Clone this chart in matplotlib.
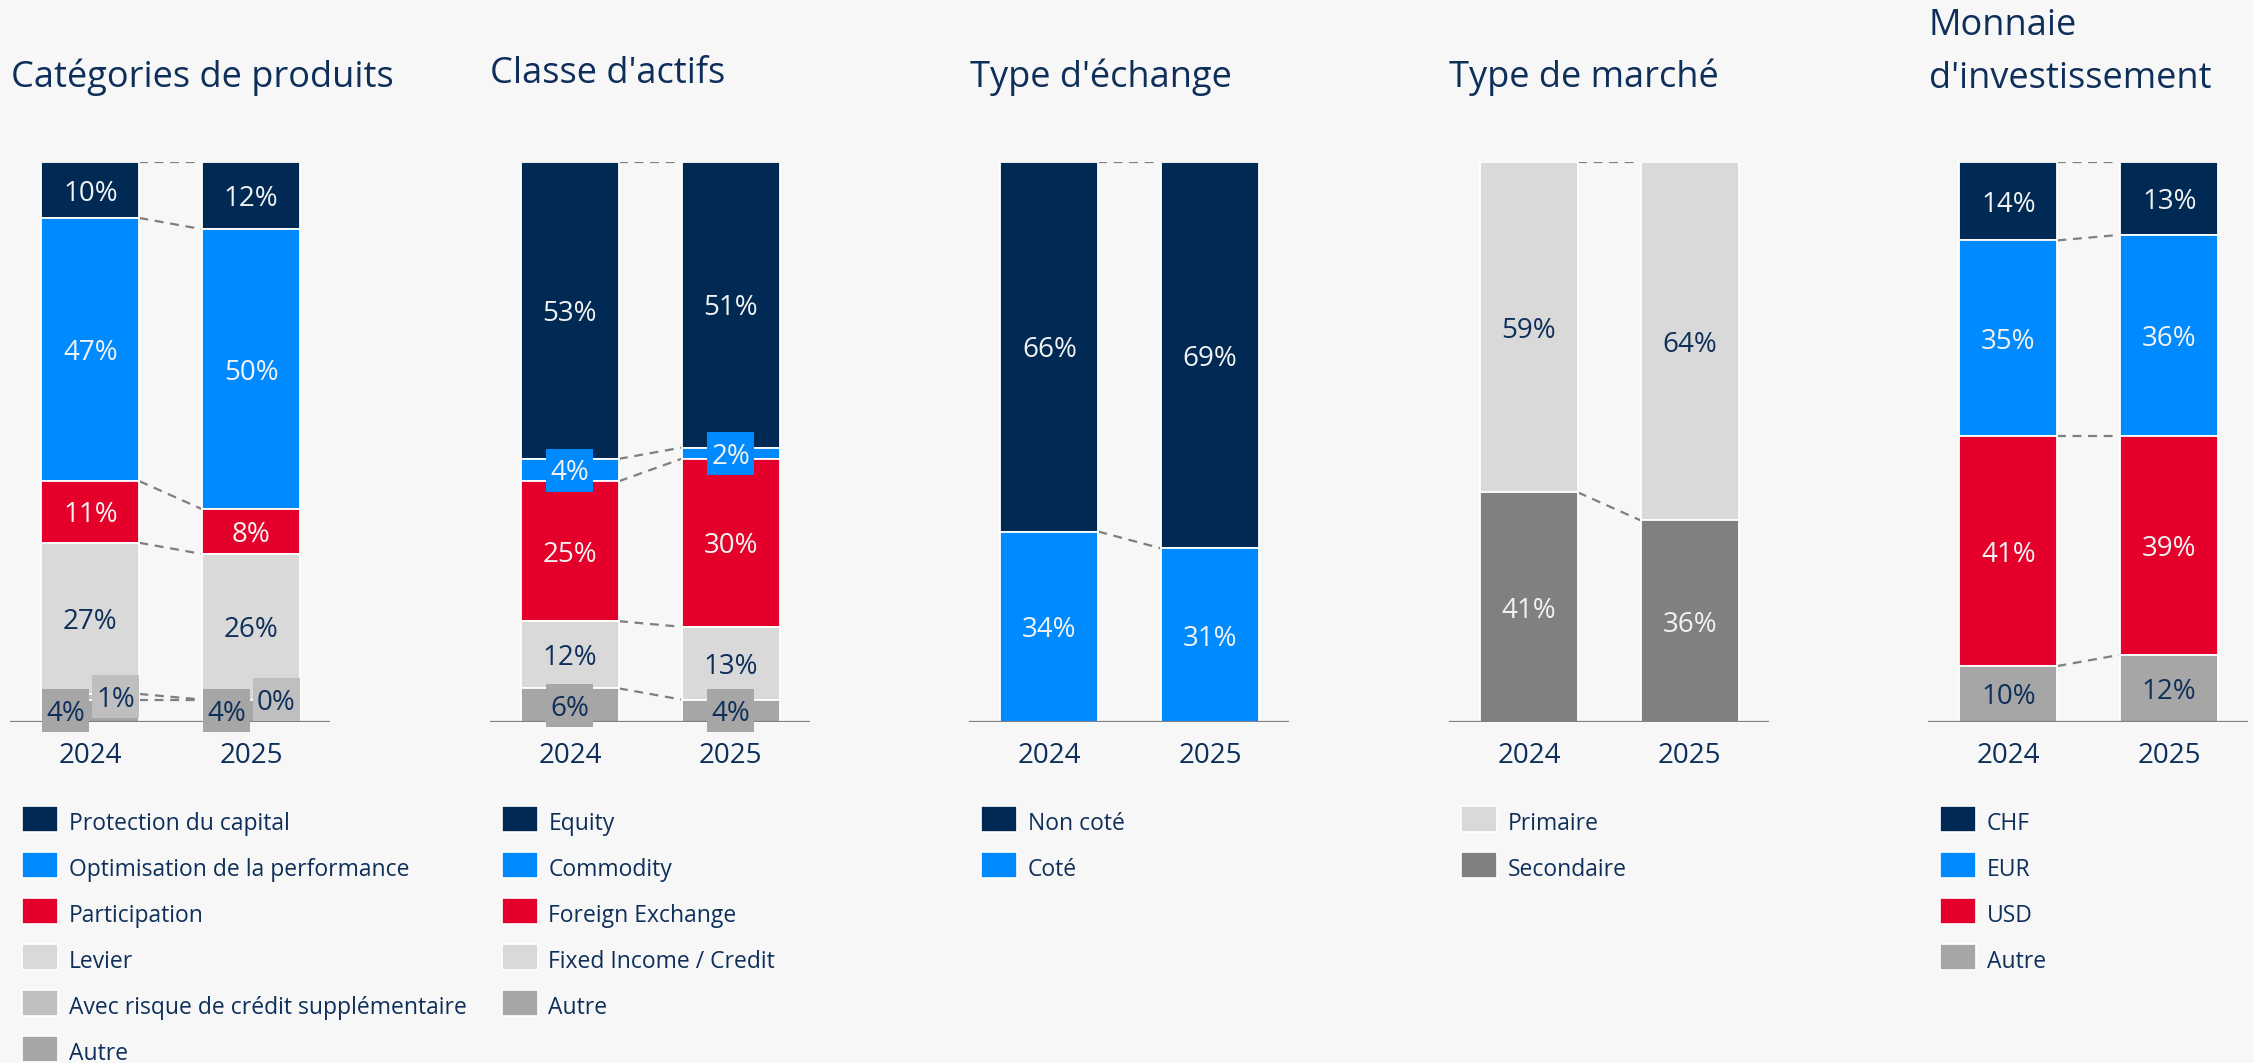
import matplotlib
matplotlib.use('Agg')
import matplotlib.pyplot as plt
from matplotlib.patches import Rectangle
import numpy as np

plt.rcParams['font.family'] = ['Open Sans', 'DejaVu Sans']

W, H = 2254, 1063

years = ['2024', '2025']

# ---- data ----
title_produits = ['Catégories de produits']
cat_produits = ['Protection du capital', 'Optimisation de la performance', 'Participation',
                'Levier', 'Avec risque de crédit supplémentaire', 'Autre']
produits_2024 = [10, 47, 11, 27, 1, 4]
produits_2025 = [12, 50, 8, 26, 0, 4]

title_actifs = ["Classe d'actifs"]
cat_actifs = ['Equity', 'Commodity', 'Foreign Exchange', 'Fixed Income / Credit', 'Autre']
actifs_2024 = [53, 4, 25, 12, 6]
actifs_2025 = [51, 2, 30, 13, 4]

title_echange = ["Type d'échange"]
cat_echange = ['Non coté', 'Coté']
echange_2024 = [66, 34]
echange_2025 = [69, 31]

title_marche = ['Type de marché']
cat_marche = ['Primaire', 'Secondaire']
marche_2024 = [59, 41]
marche_2025 = [64, 36]

title_monnaie = ['Monnaie', "d'investissement"]
cat_monnaie = ['CHF', 'EUR', 'USD', 'Autre']
monnaie_2024 = [14, 35, 41, 10]
monnaie_2025 = [13, 36, 39, 12]

# ---- styles ----
NAVY = '#002A54'
BLUE = '#008AFF'
RED = '#E4002B'
LGRAY = '#D9D9D9'
MGRAY = '#BFBFBF'
AGRAY = '#A6A6A6'
DGRAY = '#808080'
TXT = '#0E2F5A'
WTXT = '#F2F2F2'
BG = '#F7F7F7'

panels = [
    dict(title=title_produits, cats=cat_produits, v=[produits_2024, produits_2025],
         colors=[NAVY, BLUE, RED, LGRAY, MGRAY, AGRAY], dx=[0, 0, 0, 0, 0.157, -0.152],
         tbase=[87]),
    dict(title=title_actifs, cats=cat_actifs, v=[actifs_2024, actifs_2025],
         colors=[NAVY, BLUE, RED, LGRAY, AGRAY], dx=[0] * 5, tbase=[83]),
    dict(title=title_echange, cats=cat_echange, v=[echange_2024, echange_2025],
         colors=[NAVY, BLUE], dx=[0] * 2, tbase=[87]),
    dict(title=title_marche, cats=cat_marche, v=[marche_2024, marche_2025],
         colors=[LGRAY, DGRAY], dx=[0] * 2, tbase=[87]),
    dict(title=title_monnaie, cats=cat_monnaie, v=[monnaie_2024, monnaie_2025],
         colors=[NAVY, BLUE, RED, AGRAY], dx=[0] * 4, tbase=[35, 88]),
]

light_text = {NAVY, BLUE, RED, DGRAY}

fig = plt.figure(figsize=(W / 100, H / 100), dpi=100, facecolor=BG)

PX = 72 / 100  # points per pixel
BW = 0.61
STEP = 479.5
UNIT_X = 161.0   # px per x data unit
UNIT_Y = 5.6     # px per y data unit
BOX_W = 47 / UNIT_X
BOX_H = 43 / UNIT_Y

for i, p in enumerate(panels):
    x0 = 10 + STEP * i
    ax = fig.add_axes([x0 / W, (H - 722) / H, 320 / W, 560 / H])
    ax.set_facecolor(BG)
    ax.set_xlim(-0.5, 1.49)
    ax.set_ylim(0, 100)
    ax.axis('off')

    vals = np.array(p['v'], dtype=float)  # (2, n)
    n = vals.shape[1]
    tops = np.array([vals[:, k:].sum(axis=1) for k in range(n)]).T  # (2, n)
    bots = tops - vals
    xs = np.array([0, 1])

    for k in range(n):
        ax.bar(xs, vals[:, k], bottom=bots[:, k], width=BW, color=p['colors'][k],
               edgecolor='white', linewidth=1.3, zorder=2)
        ax.plot([BW / 2, 1 - BW / 2], [tops[0, k], tops[1, k]], color='#7F7F7F',
                lw=1.6, linestyle=(0, (4, 3)), zorder=1, solid_capstyle='butt')

    for k in range(n):
        col = p['colors'][k]
        tc = WTXT if col in light_text else TXT
        for j in range(2):
            v = vals[j, k]
            yc = bots[j, k] + v / 2
            lab = f'{int(round(v))}%'
            xc = xs[j] + p['dx'][k]
            if v < 7:
                ax.add_patch(Rectangle((xc - BOX_W / 2, yc - BOX_H / 2), BOX_W, BOX_H,
                                       facecolor=col, edgecolor='none', zorder=5,
                                       clip_on=False))
                ax.text(xc, yc, lab, ha='center', va='center_baseline', fontsize=20,
                        color=tc, zorder=6, clip_on=False)
            else:
                ax.text(xc, yc, lab, ha='center', va='center_baseline', fontsize=20,
                        color=tc, zorder=4)

    ax.axhline(0, color='#808080', lw=1.6, zorder=3)
    for j in range(2):
        ax.annotate(years[j], xy=(xs[j], 0), xytext=(0, -41 * PX), textcoords='offset points',
                    ha='center', va='baseline', fontsize=20, color=TXT)

    # titles
    for line, base in zip(p['title'], p['tbase']):
        fig.text((x0 + 1) / W, 1 - base / H, line, fontsize=26, color=TXT, va='baseline')

    # legend
    for k, (c, col) in enumerate(zip(p['cats'], p['colors'])):
        yc = 819 + 46 * k
        fig.add_artist(Rectangle(((x0 + 12) / W, 1 - (yc + 13) / H), 36 / W, 26 / H,
                                 transform=fig.transFigure, facecolor=col,
                                 edgecolor='white', linewidth=1.2))
        fig.text((x0 + 59) / W, 1 - (yc + 11) / H, c, fontsize=16.5, color=TXT,
                 va='baseline')

fig.savefig('out.png', dpi=100, facecolor=BG)
